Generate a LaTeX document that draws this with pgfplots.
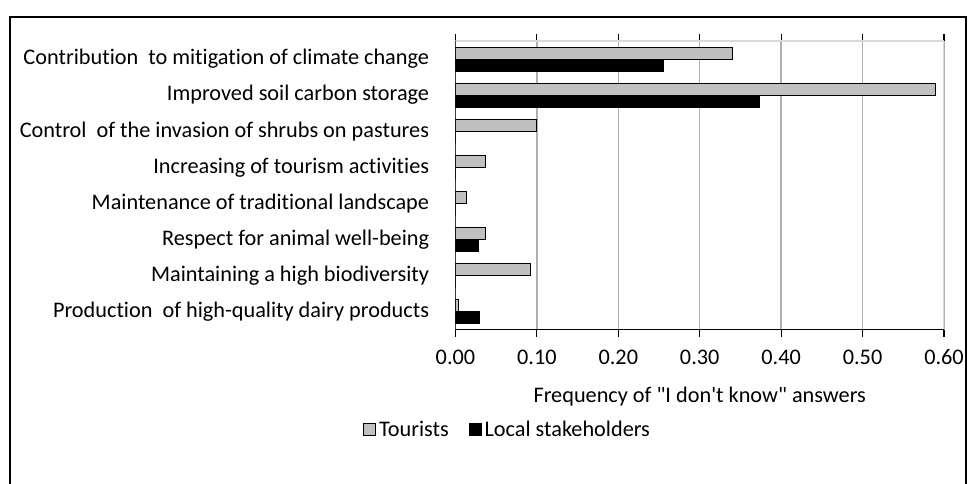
\documentclass[border=0pt]{standalone}
\usepackage{pgfplots}
\pgfplotsset{compat=1.18}
\usepackage{fontspec}
\setmainfont{Carlito}[Ligatures={CommonOff,TeXOff}]

\definecolor{barGray}{RGB}{192,192,192}
\definecolor{gridGray}{RGB}{175,175,175}
\definecolor{boxGray}{RGB}{217,217,217}

\begin{document}
\fontsize{16.7}{20}\selectfont
\begin{tikzpicture}
\useasboundingbox (-341.6pt,-115.5pt) rectangle (384.4pt,247.5pt);
% chart frame
\draw[line width=1.2pt] (-334.1pt,-116pt) -- (-334.1pt,234.75pt) -- (382.9pt,234.75pt) -- (382.9pt,-116pt);
\begin{axis}[
  at={(0,0)}, anchor=south west,
  scale only axis,
  width=366.4pt, height=216.75pt,
  xbar, bar width=9pt,
  xmin=0, xmax=0.6,
  ymin=-0.5, ymax=7.5,
  xtick={0,0.1,...,0.6},
  ytick={0,...,7},
  yticklabels={
    Production\ \ of high-quality dairy products,
    Maintaining a high biodiversity,
    Respect for animal well-being,
    Maintenance of traditional landscape,
    Increasing of tourism activities,
    Control\ \ of the invasion of shrubs on pastures,
    Improved soil carbon storage,
    Contribution\ \ to mitigation of climate change},
  xticklabel style={/tikz/yshift=-4pt,
    /pgf/number format/fixed, /pgf/number format/fixed zerofill,
    /pgf/number format/precision=2, /pgf/number format/assume math mode=true},
  yticklabel style={xshift=-9pt},
  ytick style={draw=none},
  xtick style={draw=black, line width=0.9pt},
  tick align=outside,
  major tick length=5pt,
  xmajorgrids,
  grid style={gridGray, line width=1pt},
  axis line style={draw=none},
  xlabel={Frequency of "I don't know" answers},
  xlabel style={yshift=-5pt},
  legend columns=2,
  legend style={at={(0.1075,-0.345)}, anchor=center, draw=none, fill=none,
    nodes={text height=1.6ex, text depth=0.3ex},
    /tikz/every even column/.append style={column sep=13pt}},
  legend image code/.code={\draw[#1, line width=0.8pt] (0pt,-4.5pt) rectangle (9pt,4.5pt);},
  legend cell align=left,
]
  \addplot[fill=barGray, draw=black, line width=0.8pt, bar shift=4.5pt]
  coordinates {
    (0.004,0) (0.092,1) (0.037,2) (0.013,3) (0.037,4) (0.099,5) (0.589,6) (0.340,7)
  };
  \addplot[fill=black, draw=black, line width=0.8pt, bar shift=-4.5pt]
  coordinates {
    (0.029,0) (0,1) (0.028,2) (0,3) (0,4) (0,5) (0.373,6) (0.255,7)
  };
  \legend{Tourists, Local stakeholders}
  % plot area border and axes
  \draw[boxGray, line width=1pt] (rel axis cs:0,1) -- (rel axis cs:1,1) -- (rel axis cs:1,0);
  \draw[black, line width=1pt] (rel axis cs:0,1) -- (rel axis cs:0,0) -- (rel axis cs:1,0);
\end{axis}
\end{tikzpicture}
\end{document}
